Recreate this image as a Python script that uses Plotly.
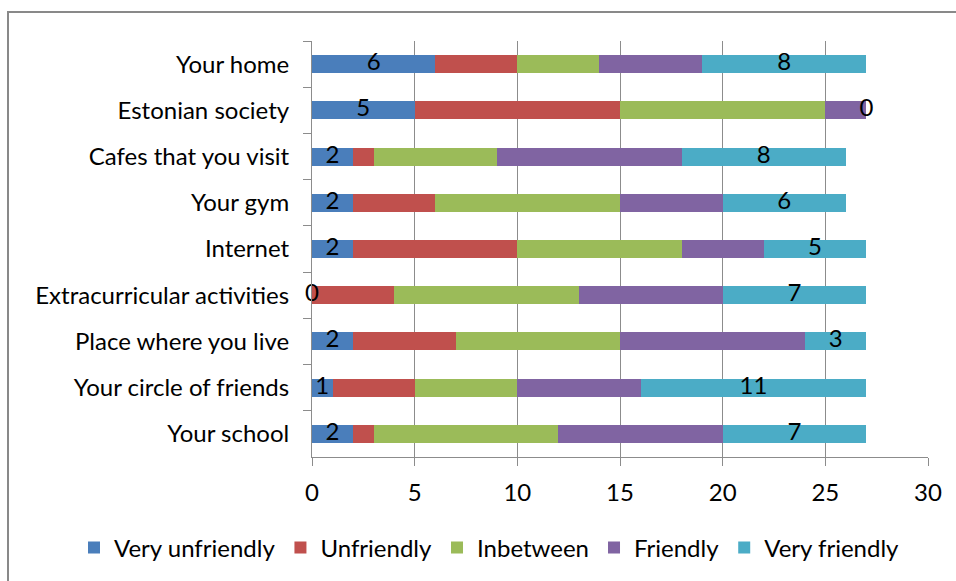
import plotly.graph_objects as go

# Places, listed top to bottom
places = [
    "Your home",
    "Estonian society",
    "Cafes that you visit",
    "Your gym",
    "Internet",
    "Extracurricular activities",
    "Place where you live",
    "Your circle of friends",
    "Your school",
]

very_unfriendly = [6, 5, 2, 2, 2, 0, 2, 1, 2]
unfriendly      = [4, 10, 1, 4, 8, 4, 5, 4, 1]
inbetween       = [4, 10, 6, 9, 8, 9, 8, 5, 9]
friendly        = [5, 2, 9, 5, 4, 7, 9, 6, 8]
very_friendly   = [8, 0, 8, 6, 5, 7, 3, 11, 7]

series = [
    ("Very unfriendly", very_unfriendly, "#4A7EBB"),
    ("Unfriendly", unfriendly, "#C0504D"),
    ("Inbetween", inbetween, "#9BBB59"),
    ("Friendly", friendly, "#8064A2"),
    ("Very friendly", very_friendly, "#4BACC6"),
]

x_ticks = [0, 5, 10, 15, 20, 25, 30]

FONT = "Lato, Carlito, 'Open Sans', sans-serif"
FS = 24

fig = go.Figure()
for name, vals, color in series:
    fig.add_trace(go.Bar(
        y=places, x=vals, name=name, orientation="h",
        marker=dict(color=color, line=dict(width=0)),
    ))

# Value labels on the outer two series, centred in their segments
n = len(places)
vu_mid = [v / 2 for v in very_unfriendly]
starts = [very_unfriendly[i] + unfriendly[i] + inbetween[i] + friendly[i] for i in range(n)]
vf_mid = [starts[i] + very_friendly[i] / 2 for i in range(n)]
fig.add_trace(go.Scatter(
    x=vu_mid + vf_mid, y=places + places, mode="text",
    text=[str(v) for v in very_unfriendly + very_friendly],
    textposition="middle center",
    textfont=dict(family=FONT, size=FS, color="#000000"),
    showlegend=False, hoverinfo="skip", cliponaxis=False,
))

# Outer chart border (right and bottom edges run off the page)
fig.add_shape(type="rect", xref="paper", yref="paper",
              x0=-0.4935, x1=1.2, y0=-0.5, y1=1.0697,
              line=dict(color="#898989", width=2), fillcolor="rgba(0,0,0,0)", layer="below")

fig.update_layout(
    width=956, height=581,
    margin=dict(l=312, r=28, t=41, b=124, autoexpand=False),
    barmode="stack", bargap=0.61,
    plot_bgcolor="white", paper_bgcolor="white",
    font=dict(family=FONT, size=FS, color="#000000"),
    xaxis=dict(
        range=[0, 30], tickvals=x_ticks, ticktext=[str(t) for t in x_ticks],
        showgrid=True, gridcolor="#8C8C8C", gridwidth=1,
        showline=True, linecolor="#8C8C8C", linewidth=1,
        ticks="outside", ticklen=8, tickcolor="#8C8C8C",
        zeroline=False, tickfont=dict(size=FS), ticklabelstandoff=6,
        automargin=False,
    ),
    yaxis=dict(
        type="category", autorange="reversed",
        showgrid=False, showline=True, linecolor="#8C8C8C", linewidth=1,
        ticks="outside", ticklen=8, tickcolor="#8C8C8C", tickson="boundaries",
        ticklabelstandoff=17, tickfont=dict(size=FS), automargin=False,
    ),
    legend=dict(
        orientation="h",
        x=(74 - 312) / 616, xanchor="left", y=(457 - 548) / 416, yanchor="middle",
        font=dict(size=FS), traceorder="normal", itemwidth=30,
        bgcolor="rgba(0,0,0,0)",
    ),
)

fig.write_html("out.html")
